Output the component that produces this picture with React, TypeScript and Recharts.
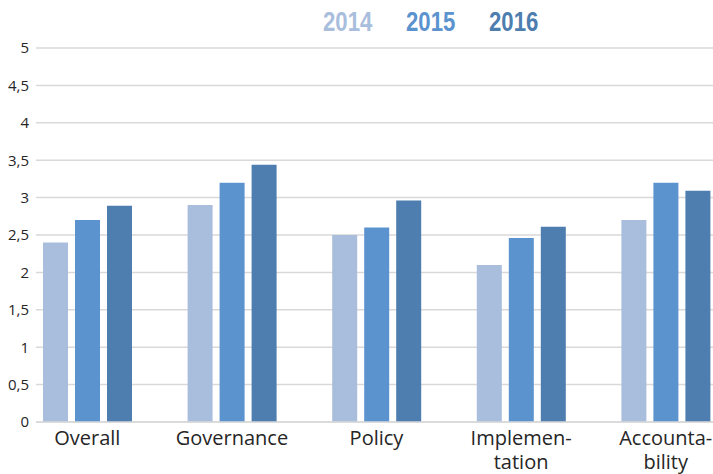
import React from "react";
import { BarChart, Bar, XAxis, YAxis, CartesianGrid } from "recharts";

const categories = ["Overall", "Governance", "Policy", "Implemen-\ntation", "Accounta-\nbility"];
const years = ["2014", "2015", "2016"];
const values2014 = [2.4, 2.9, 2.5, 2.1, 2.7];
const values2015 = [2.7, 3.2, 2.6, 2.46, 3.2];
const values2016 = [2.89, 3.44, 2.96, 2.61, 3.09];
const colors = ["#A9BDDD", "#5B93CF", "#4E7DAF"];
const yTicks = [0, 0.5, 1, 1.5, 2, 2.5, 3, 3.5, 4, 4.5, 5];

const data = categories.map((c, i) => ({
  name: c,
  y2014: values2014[i],
  y2015: values2015[i],
  y2016: values2016[i],
}));

const CatTick = (props: any) => {
  const { x, y, payload } = props;
  const lines = String(payload.value).split("\n");
  return (
    <text
      x={x}
      y={y}
      textAnchor="middle"
      fill="#262626"
      fontFamily="'Open Sans', 'Noto Sans', sans-serif"
      fontSize={20}
    >
      {lines.map((l, i) => (
        <tspan key={i} x={x} dy={i === 0 ? 21 : 24}>
          {l}
        </tspan>
      ))}
    </text>
  );
};

export default function App() {
  return (
    <div style={{ position: "absolute", left: 0, top: 0, width: 713, height: 474, background: "#fff" }}>
      <div
        style={{
          position: "absolute",
          left: 323,
          top: 9,
          display: "flex",
          gap: 34,
          fontFamily: "'Liberation Sans', Arial, sans-serif",
          fontWeight: "bold",
          fontSize: 27,
          lineHeight: "27px",
          zIndex: 2,
        }}
      >
        {years.map((y, i) => (
          <span
            key={y}
            style={{
              color: colors[i],
              display: "inline-block",
              width: 49,
              transform: "scaleX(0.82)",
              transformOrigin: "left center",
              whiteSpace: "nowrap",
            }}
          >
            {y}
          </span>
        ))}
      </div>
      <BarChart
        width={713}
        height={474}
        data={data}
        margin={{ top: 48, right: 0, left: 0, bottom: 0 }}
        barSize={25}
        barGap={7}
        style={{ overflow: "visible" }}
      >
        <CartesianGrid vertical={false} stroke="#D9D9D9" strokeWidth={1.5} />
        <XAxis
          dataKey="name"
          height={52}
          interval={0}
          tickLine={false}
          tickSize={0}
          axisLine={{ stroke: "#D9D9D9", strokeWidth: 1.5 }}
          padding={{ left: -21, right: -25 }}
          tick={<CatTick />}
        />
        <YAxis
          width={36}
          domain={[0, 5]}
          ticks={yTicks}
          interval={0}
          axisLine={false}
          tickLine={false}
          tickSize={0}
          tickMargin={7}
          tickFormatter={(v: number) => String(v).replace(".", ",")}
          tick={{ fill: "#262626", fontSize: 15, fontFamily: "'Open Sans', 'Noto Sans', sans-serif" }}
        />
        <Bar dataKey="y2014" fill={colors[0]} isAnimationActive={false} />
        <Bar dataKey="y2015" fill={colors[1]} isAnimationActive={false} />
        <Bar dataKey="y2016" fill={colors[2]} isAnimationActive={false} />
      </BarChart>
    </div>
  );
}
